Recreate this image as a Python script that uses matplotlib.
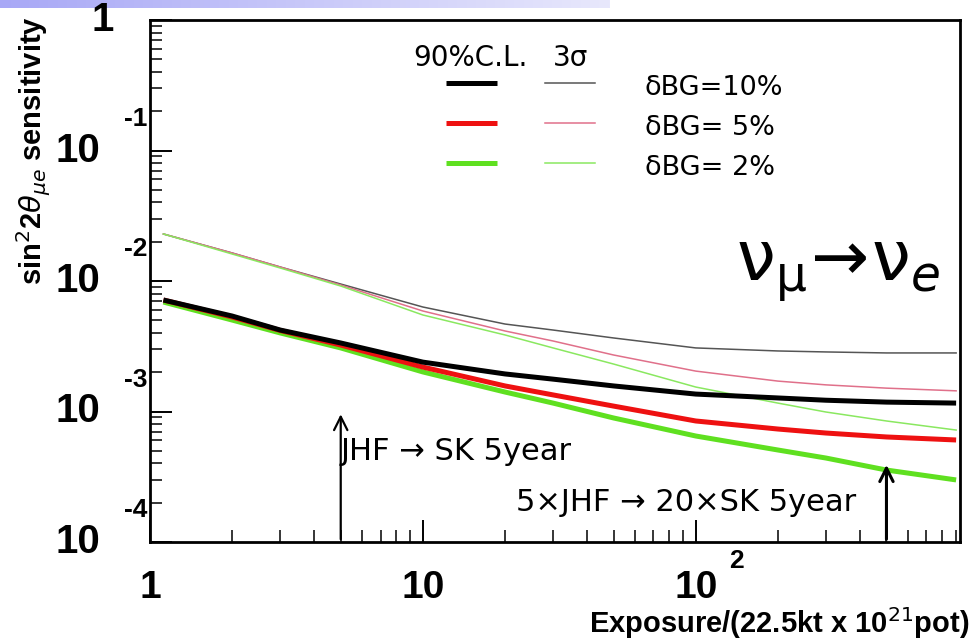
import numpy as np
import matplotlib
matplotlib.use("Agg")
import matplotlib.pyplot as plt
from matplotlib.ticker import LogLocator, NullFormatter

plt.rcParams["font.family"] = ["DejaVu Sans"]

# exposure values (22.5kt x 10^21 pot)
exposure = [1.12, 2, 3, 5, 10, 20, 30, 50, 100, 200, 300, 500, 900]

# 3 sigma sensitivity (thin lines)
s3_bg10 = [0.02292, 0.01639, 0.01280, 0.00948, 0.00632, 0.00468, 0.00421,
           0.00366, 0.00307, 0.00291, 0.00286, 0.00281, 0.00281]
s3_bg5 = [0.02292, 0.01639, 0.01280, 0.00932, 0.00589, 0.00414, 0.00347,
          0.00271, 0.00204, 0.00171, 0.00160, 0.00151, 0.00144]
s3_bg2 = [0.02292, 0.01610, 0.01258, 0.00915, 0.00549, 0.00386, 0.00307,
          0.00231, 0.00154, 0.00116, 0.000991, 0.000846, 0.000721]

# 90% C.L. sensitivity (thick lines)
cl90_bg10 = [0.00715, 0.00539, 0.00421, 0.00335, 0.00239, 0.00194, 0.00177,
             0.00157, 0.00136, 0.00127, 0.00122, 0.00118, 0.00116]
cl90_bg5 = [0.00715, 0.00530, 0.00418, 0.00323, 0.00219, 0.00157, 0.00134,
            0.00110, 0.000846, 0.000734, 0.000684, 0.000638, 0.000605]
cl90_bg2 = [0.00690, 0.00502, 0.00400, 0.00307, 0.00201, 0.00141, 0.00116,
            0.000892, 0.000649, 0.000507, 0.000440, 0.000356, 0.000299]

bg_labels = ["\u03b4BG=10%", "\u03b4BG= 5%", "\u03b4BG= 2%"]
thick_colors = ["#000000", "#ee1111", "#5fe020"]
thin_colors = ["#555555", "#e0708a", "#8ae860"]

fig = plt.figure(figsize=(9.74, 6.43), dpi=100)

# slide header gradient strip
bar = fig.add_axes([0, 1 - 8 / 643, 610 / 974, 8 / 643])
grad = np.linspace(0, 1, 256).reshape(1, -1)
c0 = np.array([168, 168, 246]) / 255
c1 = np.array([232, 232, 252]) / 255
img = c0[None, None, :] * (1 - grad[..., None]) + c1[None, None, :] * grad[..., None]
bar.imshow(img, aspect="auto")
bar.axis("off")

ax = fig.add_axes([150 / 974, 1 - 542 / 643, 810 / 974, 522 / 643])
ax.set_xscale("log")
ax.set_yscale("log")
ax.set_xlim(1, 930)
ax.set_ylim(1e-4, 1)

thin = [s3_bg10, s3_bg5, s3_bg2]
thick = [cl90_bg10, cl90_bg5, cl90_bg2]
for vals, c in zip(thin, thin_colors):
    ax.plot(exposure, vals, color=c, lw=1.1)
for vals, c in zip(thick[::-1], thick_colors[::-1]):
    ax.plot(exposure, vals, color=c, lw=3.6, solid_capstyle="butt")

# ROOT-like frame and ticks
for sp in ax.spines.values():
    sp.set_linewidth(2)
ax.set_xticks([1, 10, 100])
ax.set_yticks([1e-4, 1e-3, 1e-2, 1e-1, 1])
for a in (ax.xaxis, ax.yaxis):
    a.set_minor_locator(LogLocator(base=10, subs=np.arange(2, 10), numticks=30))
    a.set_minor_formatter(NullFormatter())
ax.tick_params(which="major", direction="in", length=16, width=1.4,
               top=False, right=False, labelbottom=False, labelleft=False)
ax.tick_params(which="minor", direction="in", length=8.5, width=1.1,
               top=False, right=False, labelbottom=False, labelleft=False)

lab = dict(fontfamily="Liberation Sans", fontweight="bold", color="black")
ymix = ax.get_yaxis_transform()
xmix = ax.get_xaxis_transform()
for e in [-1, -2, -3, -4]:
    ax.annotate("10", xy=(0, 10.0 ** e), xycoords=ymix, xytext=(-36, 0),
                textcoords="offset points", ha="right", va="center",
                fontsize=29, **lab, annotation_clip=False)
    ax.annotate(str(e), xy=(0, 10.0 ** e), xycoords=ymix, xytext=(-2, 23),
                textcoords="offset points", ha="right", va="center",
                fontsize=19, **lab, annotation_clip=False)
ax.annotate("1", xy=(0, 1), xycoords=ymix, xytext=(-26, 0),
            textcoords="offset points", ha="right", va="center",
            fontsize=29, **lab, annotation_clip=False)
for xv, t in [(1, "1"), (10, "10"), (100, "10")]:
    ax.annotate(t, xy=(xv, 0), xycoords=xmix, xytext=(0, -33),
                textcoords="offset points", ha="center", va="center",
                fontsize=28, **lab, annotation_clip=False)
ax.annotate("2", xy=(100, 0), xycoords=xmix, xytext=(29, -14),
            textcoords="offset points", ha="center", va="center",
            fontsize=19, **lab, annotation_clip=False)

fig.text(969 / 974, 1 - 623 / 643, "Exposure/(22.5kt x 10$^{21}$pot)",
         ha="right", va="center", fontsize=21, fontfamily="Liberation Sans",
         fontweight="bold")
fig.text(34 / 974, 1 - 16 / 643, r"sin$^{2}$2$\theta_{\mu e}$ sensitivity",
         rotation=90, ha="center", va="top", fontsize=21,
         fontfamily="Liberation Sans", fontweight="bold")

# legend drawn by hand, ROOT style
ax.text(0.396, 0.927, "90%C.L.", transform=ax.transAxes, ha="center",
        va="center", fontsize=20)
ax.text(0.519, 0.927, "3\u03c3", transform=ax.transAxes, ha="center",
        va="center", fontsize=20)
for i, (lbl, ck, cn) in enumerate(zip(bg_labels, thick_colors, thin_colors)):
    yy = [0.879, 0.803, 0.726][i]
    ax.plot([0.365, 0.428], [yy, yy], color=ck, lw=3.6,
            transform=ax.transAxes, solid_capstyle="butt")
    ax.plot([0.488, 0.549], [yy, yy], color=cn, lw=1.1,
            transform=ax.transAxes)
    ax.text(0.611, yy - 0.009, lbl, transform=ax.transAxes, ha="left",
            va="center", fontsize=19.5)

ax.text(0.849, 0.52, r"$\mathrm{\nu_{\mu}}\!\rightarrow\!\mathrm{\nu}_{e}$",
        transform=ax.transAxes, ha="center", va="center", fontsize=50)

# exposure markers
ax.annotate("", xy=(5, 1.0e-3), xytext=(5, 1e-4),
            arrowprops=dict(arrowstyle="->", lw=1.6, color="black",
                            mutation_scale=24))
ax.text(5.0, 4.9e-4, "JHF \u2192 SK 5year", ha="left", va="center", fontsize=22)
ax.annotate("", xy=(500, 4.1e-4), xytext=(500, 1e-4),
            arrowprops=dict(arrowstyle="->", lw=2.2, color="black",
                            mutation_scale=24))
ax.text(22, 2.0e-4, "5\u00d7JHF \u2192 20\u00d7SK 5year", ha="left",
        va="center", fontsize=22)

fig.savefig("out.png", dpi=100)
